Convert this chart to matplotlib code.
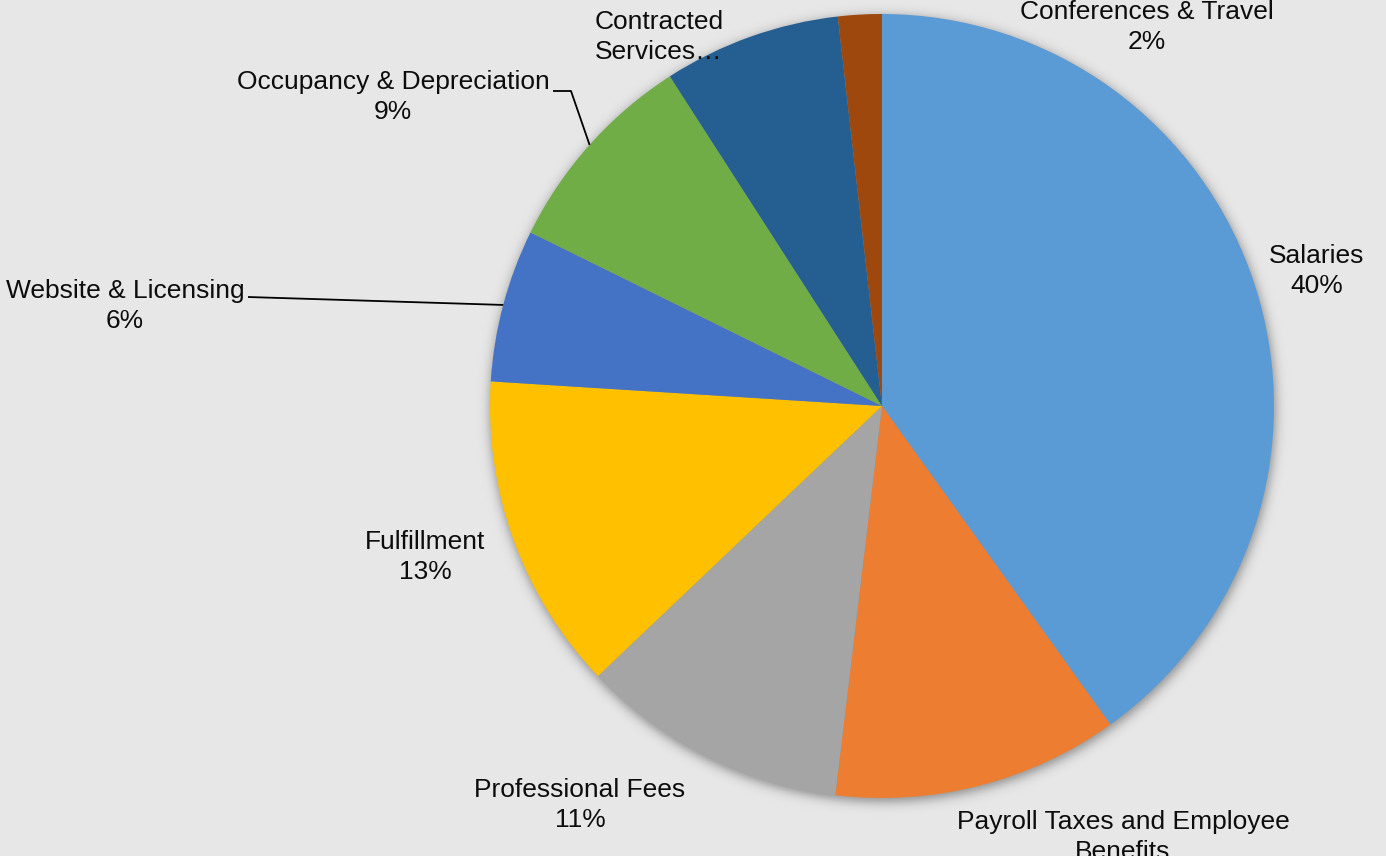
import numpy as np
import matplotlib
matplotlib.use("Agg")
import matplotlib.pyplot as plt

# Expense breakdown (share of total, %)
categories = [
    "Salaries",
    "Payroll Taxes and Employee Benefits",
    "Professional Fees",
    "Fulfillment",
    "Website & Licensing",
    "Occupancy & Depreciation",
    "Contracted Services",
    "Conferences & Travel",
]
shares = [40.1, 11.8, 11.0, 13.1, 6.3, 8.6, 7.3, 1.8]
colors = ["#5B9BD5", "#ED7D31", "#A5A5A5", "#FFC000",
          "#4472C4", "#70AD47", "#255E91", "#9E480E"]

# Label text as displayed (long names wrap, contracted services is truncated)
label_texts = [
    "Salaries\n40%",
    "Payroll Taxes and Employee\nBenefits\n12%",
    "Professional Fees\n11%",
    "Fulfillment\n13%",
    "Website & Licensing\n6%",
    "Occupancy & Depreciation\n9%",
    "Contracted\nServices…",
    "Conferences & Travel\n2%",
]

W, H = 1386, 856
fig = plt.figure(figsize=(W / 100, H / 100), dpi=100)
bg = "#e8e7e7"
fig.patch.set_facecolor(bg)
ax = fig.add_axes([0, 0, 1, 1])
ax.set_xlim(0, W)
ax.set_ylim(0, H)
ax.set_aspect("equal")
ax.axis("off")
ax.set_facecolor(bg)

cx, cy, R = 882, H - 406, 392

# soft drop shadow beneath the pie
yy, xx = np.mgrid[0:H, 0:W]
d = np.hypot(xx + 0.5 - (cx + 1), (H - yy - 0.5) - (cy - 3))
alpha = 0.38 / (1.0 + np.exp((d - R - 1.0) / 3.2))
shadow = np.zeros((H, W, 4))
shadow[..., 3] = alpha
ax.imshow(shadow, extent=(0, W, 0, H), origin="upper", zorder=1,
          interpolation="bilinear")

wedges, _ = ax.pie(shares, colors=colors, startangle=90, counterclock=False,
                   center=(cx, cy), radius=R, frame=True,
                   wedgeprops=dict(linewidth=0, zorder=2))
ax.set_xlim(0, W)
ax.set_ylim(0, H)
ax.axis("off")

font = dict(family=["Liberation Sans", "DejaVu Sans"], fontsize=19,
            color="#0d0d0d", linespacing=1.34)

# label placement: (x, y of block centre in screen pixels)
label_pos = [
    (1317, 271),
    (1123, 852),
    (580, 805),
    (425, 557),
    (125, 306),
    (393, 97),
    (659, 37),
    (1147, 27),
]
for txt, (x, y) in zip(label_texts, label_pos):
    ax.text(x, H - y, txt, ha="center", va="center", multialignment="center",
            zorder=5, **font)


def arc_mid(w):
    ang = np.deg2rad((w.theta1 + w.theta2) / 2)
    return cx + R * np.cos(ang), cy + R * np.sin(ang)


# leader lines to wedge midpoints
mx, my = arc_mid(wedges[4])
ax.plot([248, mx], [H - 297, my], color="black", lw=1.3, zorder=4,
        solid_capstyle="butt")
mx, my = arc_mid(wedges[5])
ax.plot([553, 571, mx], [H - 91, H - 91, my], color="black", lw=1.3,
        zorder=4, solid_capstyle="butt")

fig.savefig("out.png", dpi=100, facecolor=fig.get_facecolor())
